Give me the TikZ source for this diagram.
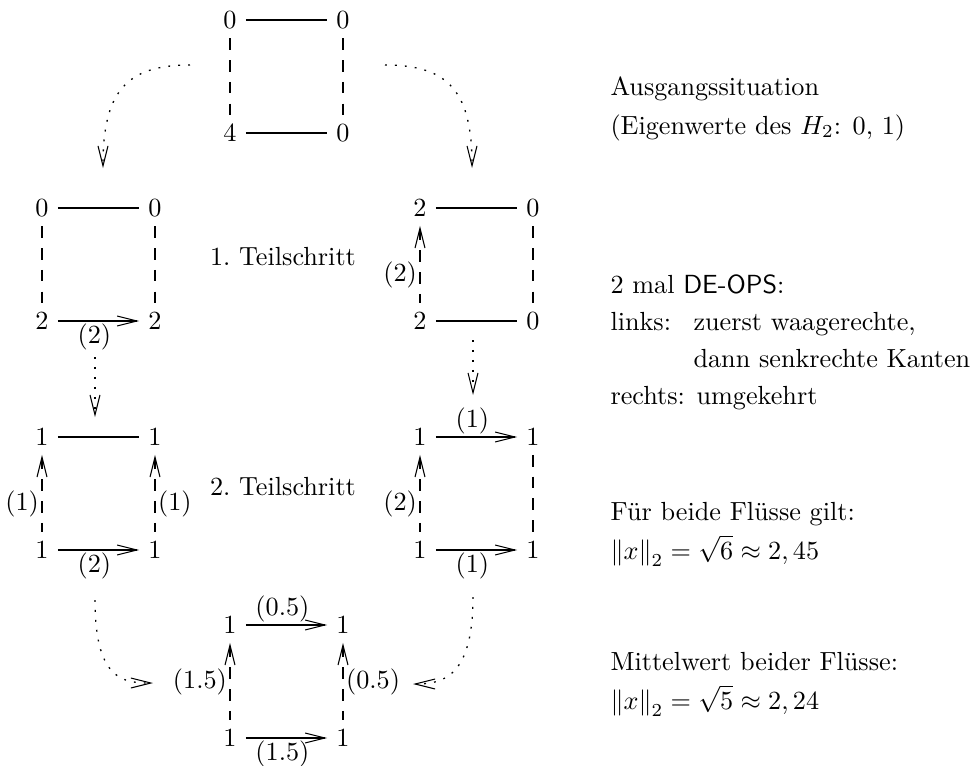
\documentclass[tikz,border=0pt]{standalone}
\usepackage{amsmath,amssymb}
\usepackage{tikz}
\usetikzlibrary{arrows.meta,positioning}

\begin{document}
\begin{tikzpicture}[x=0.3817pt,y=-0.3817pt,
  strich/.style={dash pattern=on 4.45pt off 3.85pt},
  fluss/.style={-{Straight Barb[length=7.6pt,width=3.8pt]}},
  rfluss/.style={{Straight Barb[length=7.6pt,width=3.8pt]}-},
  weg/.style={line width=0.5pt,dash pattern=on 0.7pt off 3.1pt,-{Straight Barb[length=7.6pt,width=3.8pt,line width=0.4pt]}},
  lab/.style={inner sep=1pt},
  txt/.style={anchor=base west,inner sep=0pt}]
  \useasboundingbox (0,0) rectangle (978,766);

  % die sechs Quadrate (Ecken nw, ne, sw, se)
  \foreach \q/\x/\y/\a/\b/\c/\d in {q0/230/20/0/0/4/0, q1l/42/208/0/0/2/2, q1r/420/208/2/0/2/0,
      q2l/42/437/1/1/1/1, q2r/420/437/1/1/1/1, q3/230/625/1/1/1/1} {
    \node (\q-nw) at (\x,\y) {\a};
    \node (\q-ne) at (\x+113,\y) {\b};
    \node (\q-sw) at (\x,\y+113) {\c};
    \node (\q-se) at (\x+113,\y+113) {\d};
  }

  % Ausgangssituation
  \draw (q0-nw) -- (q0-ne);
  \draw (q0-sw) -- (q0-se);
  \draw[strich] (q0-nw) -- (q0-sw);
  \draw[strich] (q0-ne) -- (q0-se);

  % 1. Teilschritt
  \draw (q1l-nw) -- (q1l-ne);
  \draw[fluss] (q1l-sw) -- node[lab,below,pos=.45] {(2)} (q1l-se);
  \draw[strich] (q1l-nw) -- (q1l-sw);
  \draw[strich] (q1l-ne) -- (q1l-se);

  \draw (q1r-nw) -- (q1r-ne);
  \draw (q1r-sw) -- (q1r-se);
  \draw[strich,rfluss] (q1r-nw) -- node[lab,left,pos=.63] {(2)} (q1r-sw);
  \draw[strich] (q1r-ne) -- (q1r-se);

  \node (ts1) at (283,257) {1.\ Teilschritt};

  % 2. Teilschritt
  \draw (q2l-nw) -- (q2l-ne);
  \draw[fluss] (q2l-sw) -- node[lab,below,pos=.45] {(2)} (q2l-se);
  \draw[strich,rfluss] (q2l-nw) -- node[lab,left,pos=.63] {(1)} (q2l-sw);
  \draw[strich,rfluss] (q2l-ne) -- node[lab,right,pos=.63] {(1)} (q2l-se);

  \draw[fluss] (q2r-nw) -- node[lab,above,pos=.45] {(1)} (q2r-ne);
  \draw[fluss] (q2r-sw) -- node[lab,below,pos=.45] {(1)} (q2r-se);
  \draw[strich,rfluss] (q2r-nw) -- node[lab,left,pos=.63] {(2)} (q2r-sw);
  \draw[strich] (q2r-ne) -- (q2r-se);

  \node (ts2) at (283,487) {2.\ Teilschritt};

  % Mittelwert
  \draw[fluss] (q3-nw) -- node[lab,above,pos=.45] {(0.5)} (q3-ne);
  \draw[fluss] (q3-sw) -- node[lab,below,pos=.45] {(1.5)} (q3-se);
  \draw[strich,rfluss] (q3-nw) -- node[lab,left] (m15) {(1.5)} (q3-sw);
  \draw[strich,rfluss] (q3-ne) -- node[lab,right] (m05) {(0.5)} (q3-se);

  % gepunktete Uebergaenge
  \coordinate (w1a) at (190,65);  \coordinate (w1b) at (103,168);
  \coordinate (w2a) at (385,65);  \coordinate (w2b) at (472,168);
  \coordinate (w3a) at (95,357);  \coordinate (w3b) at (95,417);
  \coordinate (w4a) at (473,340); \coordinate (w4b) at (473,395);
  \coordinate (w5a) at (95,600);  \coordinate (w5b) at (153,683);
  \coordinate (w6a) at (473,597); \coordinate (w6b) at (413,684);
  \draw[weg] (w1a) .. controls +(-65,0) and +(0,-75) .. (w1b);
  \draw[weg] (w2a) .. controls +(65,0) and +(0,-75) .. (w2b);
  \draw[weg] (w3a) -- (w3b);
  \draw[weg] (w4a) -- (w4b);
  \draw[weg] (w5a) .. controls +(0,80) and +(-30,0) .. (w5b);
  \draw[weg] (w6a) .. controls +(0,80) and +(30,0) .. (w6b);

  % Erlaeuterungen rechts
  \node[txt] (aus1) at (610,95) {Ausgangssituation};
  \node[txt] (aus2) at (610,134) {(Eigenwerte des $H_2$: 0, 1)};
  \node[txt] (ops) at (610,293) {2 mal \textsf{DE-OPS}:};
  \node[txt] (links) at (610,330) {links:};
  \node[txt] (links1) at (693,330) {zuerst waagerechte,};
  \node[txt] (links2) at (693,367) {dann senkrechte Kanten};
  \node[txt] (rechts) at (610,404) {rechts: umgekehrt};
  \node[txt] (fl1) at (610,520) {F\"ur beide Fl\"usse gilt:};
  \node[txt] (fl2) at (610,559) {$\left\|x\right\|_2 = \sqrt{6} \approx 2,45$};
  \node[txt] (mw1) at (610,670) {Mittelwert beider Fl\"usse:};
  \node[txt] (mw2) at (610,709) {$\left\|x\right\|_2 = \sqrt{5} \approx 2,24$};
\end{tikzpicture}
\end{document}
